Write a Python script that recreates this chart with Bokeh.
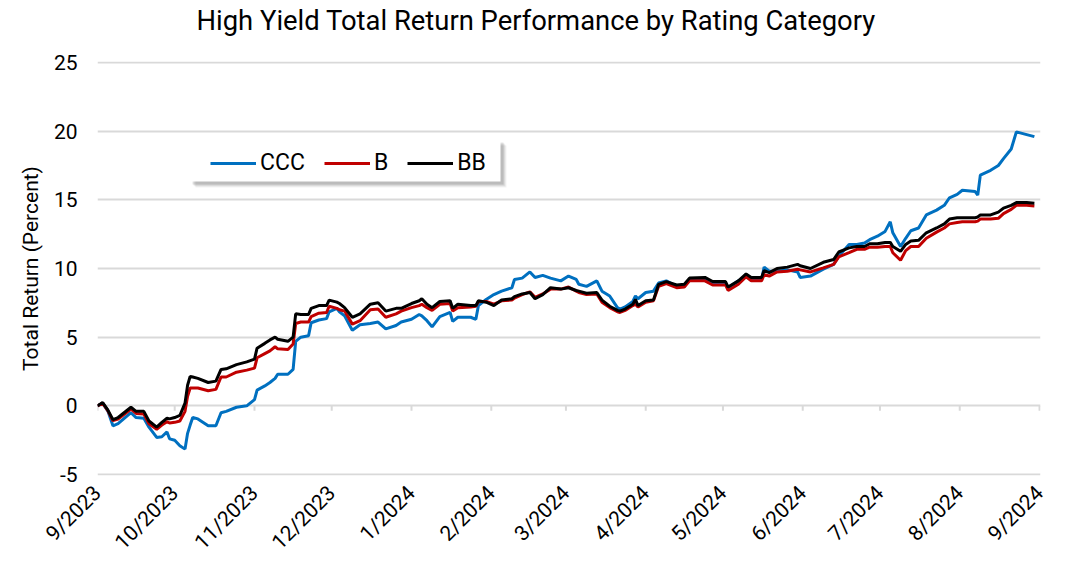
import math
import pandas as pd
from bokeh.plotting import figure
from bokeh.models import (Range1d, FixedTicker, Legend, LegendItem, BoxAnnotation,
                          ColumnDataSource, Title)
from bokeh.embed import file_html
from bokeh.resources import INLINE

# ---------------- data ----------------
dates = [
    "2023-09-01", "2023-09-03", "2023-09-05", "2023-09-07", "2023-09-09", "2023-09-14",
    "2023-09-16", "2023-09-19", "2023-09-21", "2023-09-24", "2023-09-26", "2023-09-28",
    "2023-09-29", "2023-10-01", "2023-10-03", "2023-10-05", "2023-10-06", "2023-10-07",
    "2023-10-08", "2023-10-10", "2023-10-14", "2023-10-17", "2023-10-19", "2023-10-21",
    "2023-10-25", "2023-10-29", "2023-11-01", "2023-11-02", "2023-11-05", "2023-11-07",
    "2023-11-09", "2023-11-10", "2023-11-14", "2023-11-16", "2023-11-17", "2023-11-19",
    "2023-11-22", "2023-11-23", "2023-11-26", "2023-11-29", "2023-11-30", "2023-12-03",
    "2023-12-04", "2023-12-06", "2023-12-09", "2023-12-12", "2023-12-16", "2023-12-19",
    "2023-12-22", "2023-12-26", "2023-12-28", "2024-01-01", "2024-01-04", "2024-01-05",
    "2024-01-07", "2024-01-09", "2024-01-12", "2024-01-16", "2024-01-17", "2024-01-19",
    "2024-01-24", "2024-01-26", "2024-01-27", "2024-01-30", "2024-02-02", "2024-02-05",
    "2024-02-09", "2024-02-10", "2024-02-13", "2024-02-16", "2024-02-18", "2024-02-21",
    "2024-02-24", "2024-02-28", "2024-03-02", "2024-03-05", "2024-03-06", "2024-03-09",
    "2024-03-13", "2024-03-15", "2024-03-18", "2024-03-21", "2024-03-22", "2024-03-24",
    "2024-03-27", "2024-03-28", "2024-03-29", "2024-04-01", "2024-04-04", "2024-04-06",
    "2024-04-09", "2024-04-13", "2024-04-16", "2024-04-18", "2024-04-24", "2024-04-27",
    "2024-05-02", "2024-05-03", "2024-05-07", "2024-05-10", "2024-05-12", "2024-05-16",
    "2024-05-17", "2024-05-19", "2024-05-22", "2024-05-26", "2024-05-30", "2024-05-31",
    "2024-06-04", "2024-06-09", "2024-06-13", "2024-06-15", "2024-06-19", "2024-06-22",
    "2024-06-25", "2024-06-27", "2024-06-30", "2024-07-03", "2024-07-05", "2024-07-06",
    "2024-07-09", "2024-07-11", "2024-07-13", "2024-07-16", "2024-07-19", "2024-07-23",
    "2024-07-26", "2024-07-28", "2024-07-31", "2024-08-02", "2024-08-07", "2024-08-08",
    "2024-08-09", "2024-08-13", "2024-08-16", "2024-08-18", "2024-08-21", "2024-08-23",
    "2024-08-27", "2024-08-30",
]

bb = [
    0.0, 0.24, -0.3, -1.0, -0.85, -0.1, -0.4, -0.4, -1.1, -1.55, -1.2, -0.9,
    -0.95, -0.85, -0.7, 0.2, 1.5, 2.15, 2.1, 2.0, 1.7, 1.8, 2.65, 2.7,
    3.0, 3.2, 3.4, 4.2, 4.55, 4.8, 5.0, 4.85, 4.7, 5.0, 6.7, 6.65,
    6.65, 7.1, 7.3, 7.3, 7.7, 7.55, 7.45, 7.15, 6.45, 6.7, 7.4, 7.5,
    6.9, 7.1, 7.1, 7.45, 7.65, 7.8, 7.4, 7.15, 7.6, 7.65, 7.1, 7.4,
    7.3, 7.3, 7.65, 7.55, 7.3, 7.7, 7.8, 7.95, 8.15, 8.25, 7.8, 8.1,
    8.6, 8.5, 8.6, 8.4, 8.35, 8.2, 8.25, 7.7, 7.25, 6.95, 6.9, 7.05,
    7.4, 7.75, 7.3, 7.65, 7.7, 8.85, 9.05, 8.8, 8.85, 9.3, 9.35, 9.05,
    9.05, 8.65, 9.1, 9.6, 9.35, 9.35, 9.85, 9.7, 10.0, 10.1, 10.3, 10.2,
    10.0, 10.45, 10.65, 11.2, 11.5, 11.6, 11.6, 11.8, 11.8, 11.9, 11.9, 11.6,
    11.25, 11.75, 12.0, 12.05, 12.6, 12.95, 13.25, 13.6, 13.7, 13.7, 13.7, 13.75,
    13.9, 13.9, 14.1, 14.4, 14.6, 14.8, 14.8, 14.75,
]

b = [
    0.0, 0.2, -0.35, -1.08, -0.96, -0.24, -0.55, -0.6, -1.3, -1.7, -1.4, -1.15,
    -1.25, -1.2, -1.1, -0.4, 0.7, 1.3, 1.3, 1.3, 1.1, 1.2, 2.1, 2.1,
    2.45, 2.6, 2.75, 3.5, 3.8, 4.0, 4.3, 4.15, 4.1, 4.5, 6.0, 6.1,
    6.1, 6.5, 6.75, 6.8, 7.25, 7.1, 7.0, 6.9, 5.95, 6.2, 7.0, 7.05,
    6.45, 6.7, 6.9, 7.15, 7.3, 7.4, 7.15, 6.95, 7.4, 7.45, 6.9, 7.15,
    7.2, 7.25, 7.6, 7.6, 7.4, 7.65, 7.7, 7.85, 8.1, 8.3, 7.9, 8.15,
    8.5, 8.5, 8.65, 8.35, 8.25, 8.1, 8.15, 7.55, 7.15, 6.85, 6.8, 6.95,
    7.3, 7.4, 7.2, 7.55, 7.65, 8.7, 8.9, 8.6, 8.65, 9.1, 9.1, 8.8,
    8.8, 8.4, 8.85, 9.4, 9.1, 9.1, 9.55, 9.45, 9.75, 9.8, 9.95, 9.9,
    9.75, 10.05, 10.3, 10.85, 11.15, 11.4, 11.4, 11.55, 11.55, 11.6, 11.6, 11.15,
    10.6, 11.3, 11.6, 11.6, 12.2, 12.65, 12.95, 13.25, 13.35, 13.4, 13.4, 13.45,
    13.6, 13.6, 13.65, 14.0, 14.3, 14.6, 14.6, 14.55,
]

ccc = [
    0.0, 0.2, -0.36, -1.45, -1.3, -0.5, -0.85, -0.9, -1.55, -2.3, -2.25, -1.9,
    -2.4, -2.5, -2.9, -3.15, -2.0, -1.4, -0.85, -0.95, -1.45, -1.45, -0.5, -0.4,
    -0.1, 0.0, 0.45, 1.15, 1.45, 1.7, 2.0, 2.3, 2.3, 2.65, 4.7, 5.0,
    5.1, 6.05, 6.25, 6.35, 6.85, 7.1, 6.85, 6.55, 5.5, 5.9, 6.0, 6.1,
    5.6, 5.85, 6.1, 6.3, 6.65, 6.55, 6.2, 5.75, 6.5, 6.8, 6.15, 6.45,
    6.45, 6.3, 7.3, 7.75, 8.1, 8.35, 8.6, 9.2, 9.3, 9.75, 9.35, 9.5,
    9.3, 9.1, 9.45, 9.2, 8.85, 8.7, 9.1, 8.35, 8.0, 7.15, 7.05, 7.2,
    7.6, 8.0, 7.8, 8.25, 8.35, 8.95, 9.1, 8.7, 8.7, 9.2, 9.2, 8.95,
    8.95, 8.6, 9.1, 9.5, 9.2, 9.2, 10.1, 9.8, 9.8, 9.9, 9.75, 9.35,
    9.45, 9.95, 10.3, 10.9, 11.75, 11.75, 11.85, 12.1, 12.35, 12.7, 13.4, 12.6,
    11.6, 12.2, 12.75, 12.95, 13.9, 14.25, 14.6, 15.15, 15.4, 15.7, 15.6, 15.35,
    16.8, 17.15, 17.5, 18.0, 18.7, 19.95, 19.75, 19.6,
]

series_names = ["CCC", "B", "BB"]
series_colors = ["#0070C0", "#C00000", "#000000"]

month_ticks = [
    "2023-09-01", "2023-10-01", "2023-11-01", "2023-12-01", "2024-01-01", "2024-02-01",
    "2024-03-01", "2024-04-01", "2024-05-01", "2024-06-01", "2024-07-01", "2024-08-01",
    "2024-09-01",
]
month_labels = [
    "9/2023", "10/2023", "11/2023", "12/2023", "1/2024", "2/2024", "3/2024",
    "4/2024", "5/2024", "6/2024", "7/2024", "8/2024", "9/2024",
]
y_ticks = [-5, 0, 5, 10, 15, 20, 25]
y_labels = ["-5", "0", "5", "10", "15", "20", "25"]

TITLE = "High Yield Total Return Performance by Rating Category"
FONT = "Roboto"

# ---------------- figure ----------------
x_dates = pd.to_datetime(dates)
tick_dt = pd.to_datetime(month_ticks)
tick_ms = [float((t - pd.Timestamp("1970-01-01")) // pd.Timedelta("1ms")) for t in tick_dt]

source = ColumnDataSource(dict(x=x_dates, CCC=ccc, B=b, BB=bb))

p = figure(width=1060, height=565, x_axis_type="datetime",
           output_backend="svg", toolbar_location=None,
           x_range=Range1d(tick_dt[0], tick_dt[-1] + pd.Timedelta(hours=9)),
           y_range=Range1d(y_ticks[0] - 0.07, y_ticks[-1] + 0.07),
           min_border_left=97, min_border_right=20, min_border_bottom=85,
           min_border_top=61)

p.outline_line_color = None
p.background_fill_color = "white"
p.border_fill_color = "white"

# title: a small blank spacer next to the frame, then the real title above it
p.add_layout(Title(text=" ", text_font=FONT, text_font_size="10px", standoff=10), "above")
p.add_layout(Title(text=TITLE, text_font=FONT, text_font_size="27.4px",
                   text_font_style="normal", text_color="#000000",
                   align="left", offset=99, standoff=4), "above")

p.xgrid.grid_line_color = None
p.ygrid.grid_line_color = "#d9d9d9"
p.ygrid.grid_line_width = 2
p.ygrid.ticker = FixedTicker(ticks=y_ticks)

# y axis
p.yaxis.ticker = FixedTicker(ticks=y_ticks)
p.yaxis.major_label_overrides = {t: lab for t, lab in zip(y_ticks, y_labels)}
p.yaxis.axis_line_color = None
p.yaxis.major_tick_line_color = None
p.yaxis.major_tick_out = 0
p.yaxis.major_tick_in = 0
p.yaxis.minor_tick_line_color = None
p.yaxis.major_label_text_font = FONT
p.yaxis.major_label_text_font_size = "21px"
p.yaxis.major_label_text_color = "#000000"
p.yaxis.major_label_standoff = 20
p.yaxis.axis_label = "Total Return (Percent)"
p.yaxis.axis_label_text_font = FONT
p.yaxis.axis_label_text_font_size = "21px"
p.yaxis.axis_label_text_font_style = "normal"
p.yaxis.axis_label_text_color = "#000000"
p.yaxis.axis_label_standoff = 8

# x axis
p.xaxis.ticker = FixedTicker(ticks=tick_ms)
p.xaxis.major_label_overrides = {ms: lab for ms, lab in zip(tick_ms, month_labels)}
p.xaxis.axis_line_color = None
p.xaxis.major_tick_line_color = None
p.xaxis.minor_tick_line_color = None
p.xaxis.major_label_orientation = math.pi / 4
p.xaxis.major_label_text_font = FONT
p.xaxis.major_label_text_font_size = "21px"
p.xaxis.major_label_text_color = "#000000"
p.xaxis.major_label_standoff = 8

# small tick marks hanging below the zero line
p.segment(x0=tick_dt, y0=0, x1=tick_dt, y1=-0.36, line_color="#d9d9d9", line_width=2)

renderers = []
for name, color in zip(series_names, series_colors):
    r = p.line(x="x", y=name, source=source, line_color=color, line_width=3)
    renderers.append(r)

# legend box with a soft shadow
BL, BR, BB_, BT = 92, 403, 294, 336
for k, a in [(6, 0.05), (5, 0.06), (4, 0.08), (3, 0.10)]:
    p.add_layout(BoxAnnotation(left=BL + k, right=BR + k, bottom=BB_ - k, top=BT - k,
                               left_units="screen", right_units="screen",
                               top_units="screen", bottom_units="screen",
                               fill_color="black", fill_alpha=a, line_color=None))
p.add_layout(BoxAnnotation(left=BL, right=BR, bottom=BB_, top=BT,
                           left_units="screen", right_units="screen",
                           top_units="screen", bottom_units="screen",
                           fill_color="white", fill_alpha=1, line_color=None))

legend = Legend(items=[LegendItem(label=n, renderers=[r]) for n, r in zip(series_names, renderers)],
                location=(113, 299), orientation="horizontal",
                background_fill_alpha=0, border_line_color=None,
                padding=0, margin=0, spacing=19, label_standoff=4,
                glyph_width=46, glyph_height=20, label_width=1,
                label_text_font=FONT, label_text_font_size="23px",
                label_text_color="#000000")
p.add_layout(legend)

open("out.html", "w").write(file_html(p, INLINE))
